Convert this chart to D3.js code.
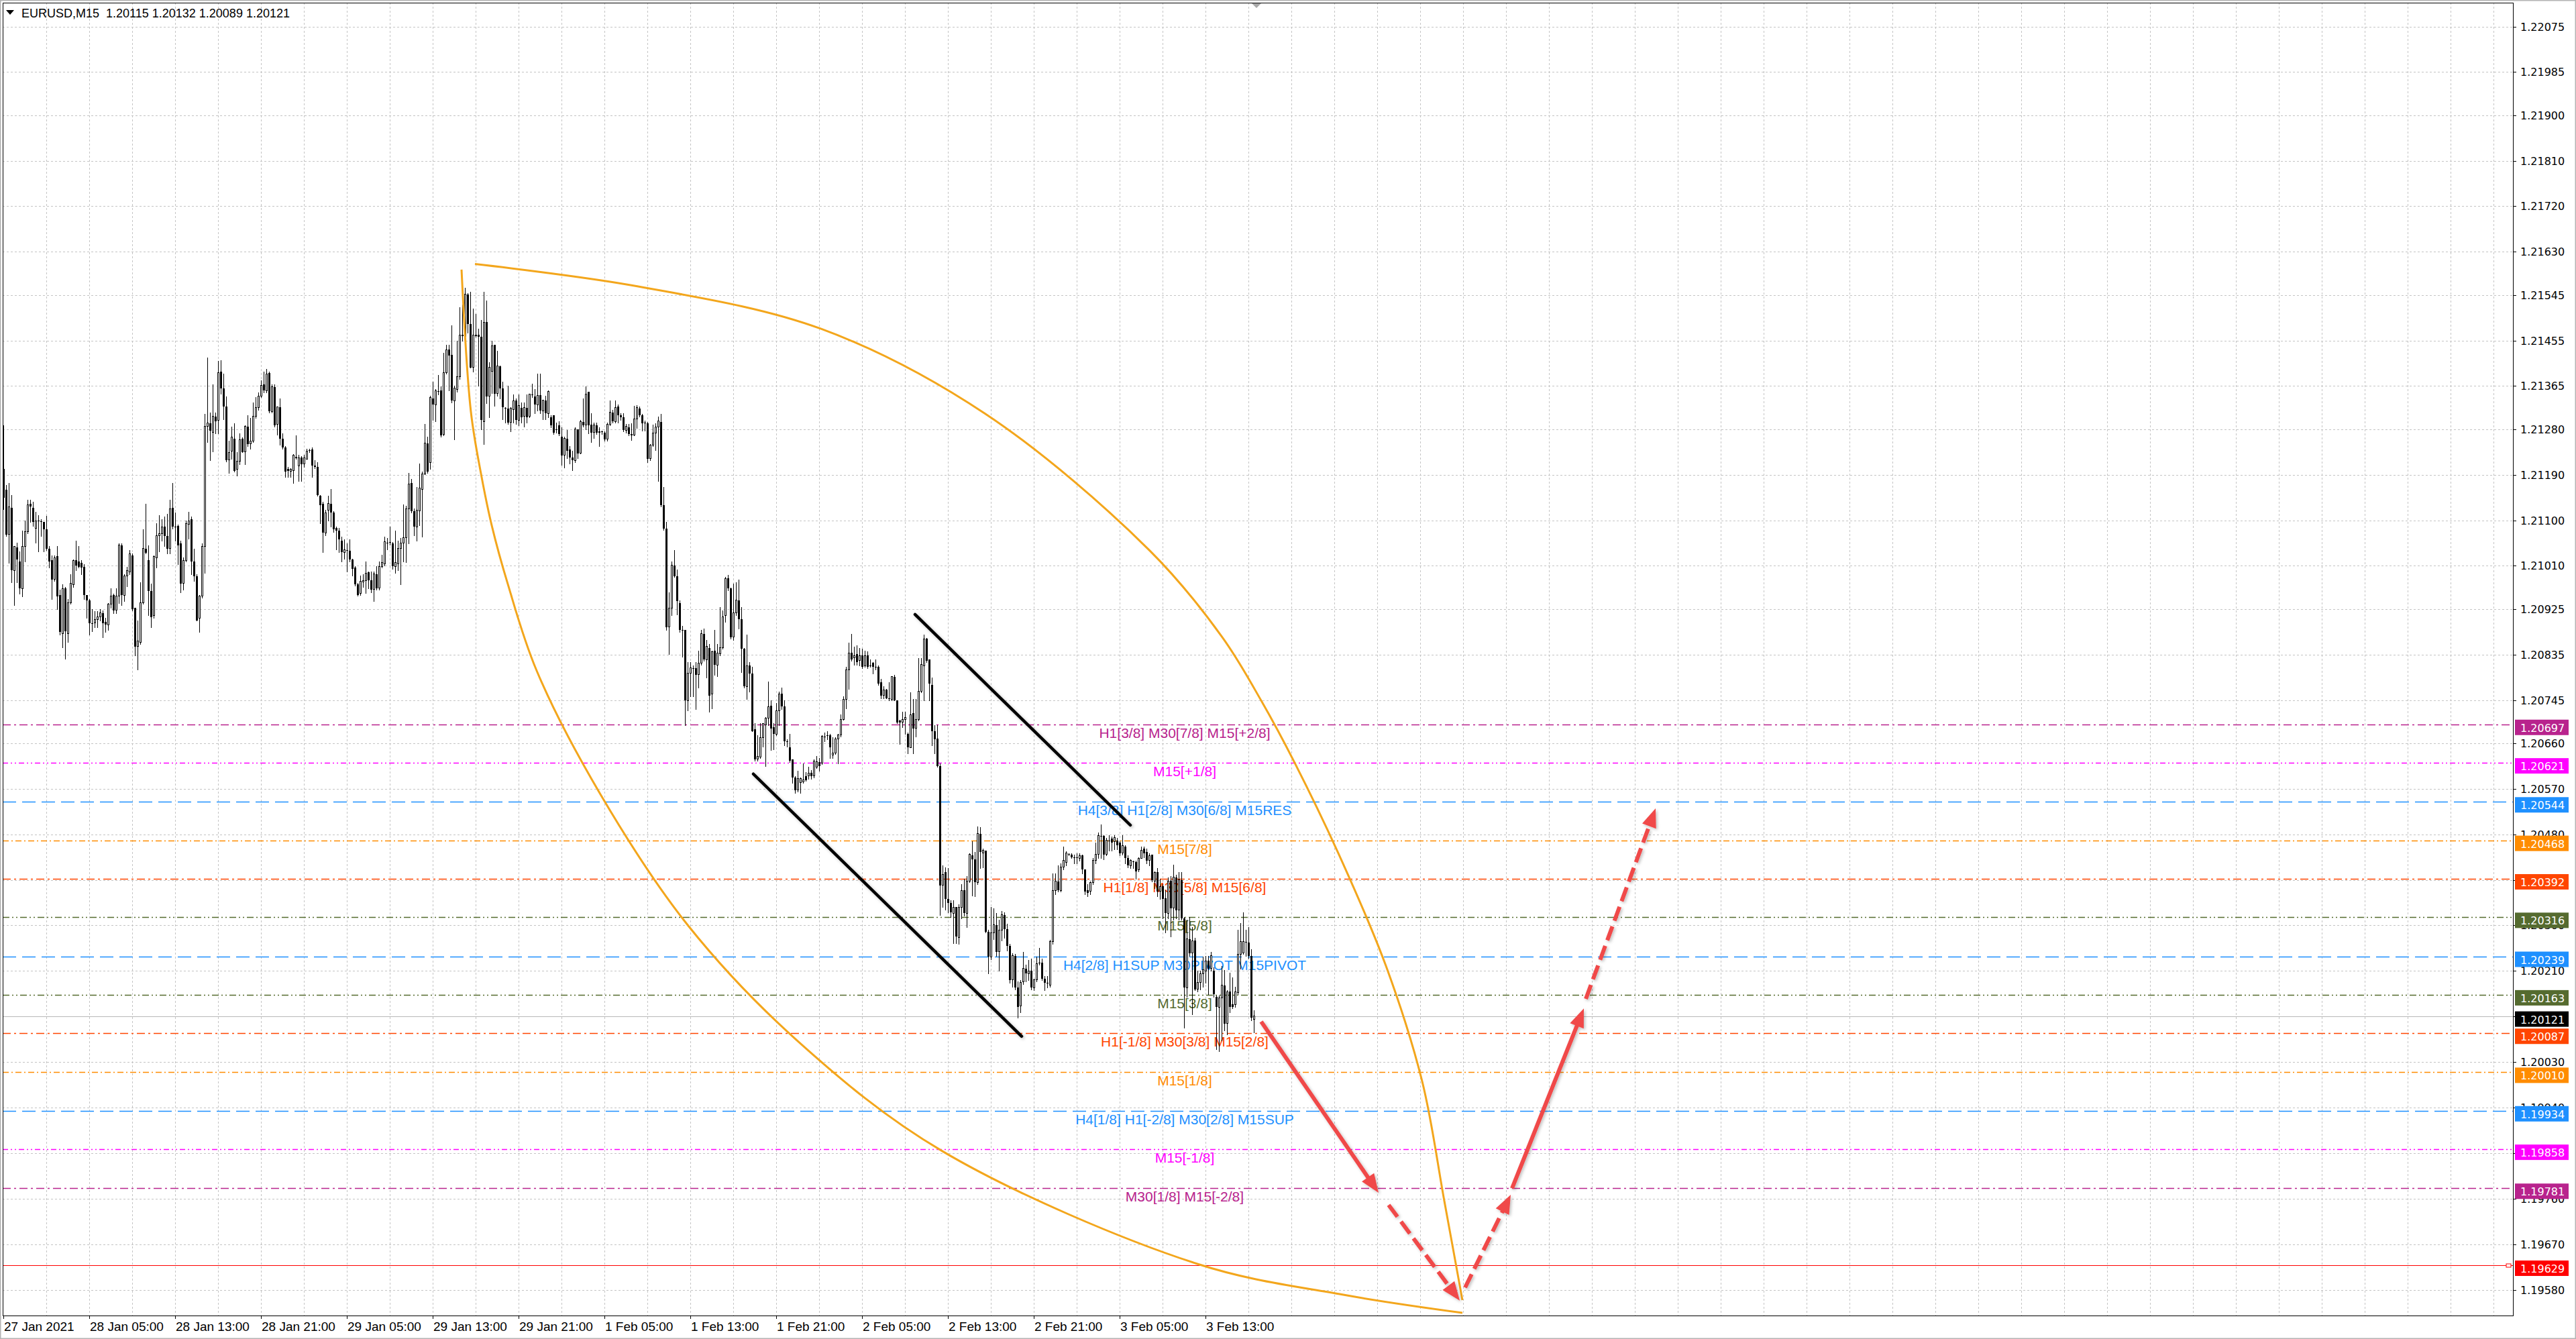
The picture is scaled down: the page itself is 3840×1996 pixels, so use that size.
<!DOCTYPE html>
<html>
<head>
<meta charset="utf-8">
<script src="https://cdn.jsdelivr.net/npm/d3@7"></script>
<style>
  html, body { margin: 0; padding: 0; background: #fff; overflow: hidden; }
</style>
</head>
<body>
<div id="chart"></div>
<script>
// prices of the candles are kept in points (0.00001) above BASE
var BASE = 1.19, PT = 0.00001;

var opens = [
  2201,2160,2072,2125,2001,2046,2018,1965,2049,2077, 2132,2125,2084,2099,2098,2097,2082,2044,2021,1983,
  2029,1952,1876,1965,1876,1937,1973,2021,2018,2016, 2008,1952,1942,1897,1897,1904,1909,1917,1899,1894,
  1935,1952,1922,1950,2051,1952,1990,1998,2031,1927, 1851,1859,1937,2044,2021,1960,1912,2026,2069,2074,
  2087,2069,2044,2125,2087,2089,2054,1975,2021,2092, 2102,2018,1990,1907,1950,2049,2285,2292,2274,2305,
  2297,2394,2361,2325,2219,2236,2261,2201,2216,2261, 2235,2285,2251,2257,2305,2323,2345,2368,2356,2391,
  2315,2363,2290,2323,2261,2244,2201,2197,2198,2225, 2208,2224,2211,2221,2238,2240,2208,2206,2148,2133,
  2075,2120,2132,2115,2085,2080,2060,2037,2041,2040, 2022,2006,1973,1956,1978,1981,1997,1981,1963,1994,
  1966,2009,2014,2056,2057,2055,2009,2014,2044,2055, 2065,2123,2174,2118,2087,2118,2161,2191,2252,2214,
  2341,2328,2355,2356,2270,2392,2437,2427,2336,2359, 2384,2464,2463,2546,2488,2402,2466,2466,2463,2295,
  2491,2345,2394,2446,2350,2404,2361,2322,2321,2293, 2319,2336,2298,2322,2305,2322,2305,2348,2345,2328,
  2347,2316,2337,2311,2304,2307,2279,2287,2265,2228, 2261,2240,2224,2218,2280,2232,2294,2288,2354,2289,
  2273,2287,2273,2275,2273,2260,2290,2313,2295,2325, 2307,2303,2278,2284,2268,2268,2300,2321,2307,2293,
  2292,2222,2249,2272,2284,2294,2130,2084,1889,1927, 2011,1989,1937,1884,1884,1744,1798,1808,1808,1795,
  1818,1876,1825,1848,1757,1842,1814,1837,1848,1912, 1985,1965,1869,1917,1942,1904,1847,1772,1813,1797,
  1688,1628,1633,1671,1696,1709,1734,1691,1678,1724, 1758,1732,1664,1651,1628,1592,1567,1582,1583,1595,
  1595,1601,1595,1613,1623,1620,1673,1675,1676,1637, 1640,1668,1676,1706,1747,1805,1838,1828,1836,1823,
  1833,1813,1833,1813,1818,1811,1810,1780,1754,1765, 1748,1747,1791,1744,1704,1701,1706,1678,1651,1719,
  1689,1706,1762,1813,1866,1825,1775,1683,1669,1615, 1379,1405,1352,1344,1324,1336,1276,1336,1369,1324,
  1387,1439,1430,1385,1481,1443,1448,1288,1238,1286, 1301,1248,1291,1321,1293,1260,1192,1240,1177,1141,
  1189,1215,1205,1210,1177,1192,1226,1227,1195,1187, 1182,1268,1369,1387,1369,1415,1425,1441,1440,1435,
  1434,1433,1438,1410,1369,1367,1385,1428,1440,1477, 1477,1440,1468,1471,1466,1468,1463,1443,1456,1433,
  1418,1426,1425,1410,1433,1451,1445,1428,1440,1387, 1405,1367,1377,1354,1324,1388,1334,1395,1330,1390,
  1314,1177,1273,1245,1270,1174,1187,1205,1210,1230, 1215,1210,1159,1139,1157,1182,1106,1169,1144,1144,
  1167,1243,1245,1268,1266,1240,1115
];
var highs = [
  2287,2170,2173,2150,2049,2056,2039,2079,2099,2141, 2140,2137,2117,2110,2102,2097,2109,2049,2031,2031,
  2049,1963,1973,1968,1945,1993,2023,2059,2049,2021, 2013,1952,1945,1925,1920,1920,1925,1922,1907,1937,
  1965,1955,1965,2054,2054,1993,2008,2041,2034,1927, 1902,1978,2082,2132,2051,1975,2031,2094,2110,2102,
  2107,2112,2140,2173,2115,2092,2059,2026,2099,2117, 2107,2044,1993,1952,2054,2310,2421,2312,2368,2312,
  2414,2416,2389,2345,2257,2285,2292,2234,2272,2264, 2287,2308,2302,2333,2343,2353,2376,2394,2399,2394,
  2368,2368,2324,2340,2272,2247,2206,2203,2231,2267, 2229,2226,2229,2241,2241,2244,2219,2214,2150,2136,
  2120,2148,2161,2118,2087,2085,2067,2062,2054,2062, 2024,2009,1976,1991,1994,2019,1999,1999,1999,2009,
  2019,2032,2067,2065,2087,2057,2080,2060,2065,2131, 2128,2194,2181,2123,2166,2212,2196,2290,2265,2346,
  2374,2359,2387,2364,2430,2447,2447,2485,2366,2455, 2521,2526,2559,2549,2551,2518,2508,2478,2496,2551,
  2534,2412,2455,2447,2435,2405,2374,2323,2366,2323, 2349,2341,2349,2333,2333,2349,2350,2369,2359,2389,
  2389,2338,2346,2356,2308,2308,2293,2295,2283,2265, 2278,2247,2237,2283,2280,2298,2341,2364,2354,2311,
  2293,2293,2283,2277,2275,2293,2336,2318,2336,2328, 2311,2311,2290,2290,2292,2326,2327,2325,2310,2297,
  2294,2251,2289,2292,2305,2310,2165,2097,1957,2018, 2041,2003,1942,1891,1884,1820,1820,1813,1820,1843,
  1884,1886,1863,1856,1843,1884,1856,1929,1922,1988, 1992,1967,1975,1978,1983,1929,1848,1874,1820,1810,
  1699,1676,1699,1699,1711,1782,1744,1699,1739,1762, 1770,1744,1668,1678,1628,1595,1605,1592,1620,1602,
  1613,1607,1628,1635,1630,1676,1681,1683,1678,1671, 1671,1678,1716,1752,1810,1858,1876,1851,1853,1848,
  1846,1843,1841,1825,1820,1825,1813,1787,1772,1767, 1780,1792,1795,1744,1706,1722,1722,1681,1760,1747,
  1747,1828,1828,1874,1868,1825,1790,1696,1696,1620, 1418,1415,1413,1349,1349,1336,1342,1382,1392,1397,
  1443,1466,1445,1496,1494,1451,1448,1291,1336,1334, 1324,1311,1329,1326,1303,1263,1245,1243,1189,1192,
  1248,1222,1232,1235,1195,1238,1255,1235,1200,1200, 1271,1402,1402,1418,1423,1456,1446,1443,1443,1440,
  1443,1443,1440,1410,1382,1387,1433,1463,1483,1499, 1478,1473,1478,1476,1478,1473,1466,1478,1458,1438,
  1430,1428,1428,1435,1456,1456,1451,1443,1440,1407, 1413,1392,1382,1369,1395,1397,1420,1400,1405,1405,
  1316,1311,1316,1296,1276,1210,1210,1238,1240,1240, 1248,1217,1162,1162,1220,1212,1172,1207,1197,1179,
  1291,1304,1326,1291,1296,1253,1132
];
var lows = [
  2122,2069,2016,1978,1932,1978,1955,1950,2018,2074, 2097,2089,2056,2039,2069,2039,2041,2006,1945,1980,
  1925,1874,1849,1826,1859,1935,1968,2001,2006,1993, 1945,1907,1874,1881,1889,1889,1902,1869,1879,1884,
  1927,1917,1917,1937,1932,1940,1970,1993,1922,1833, 1805,1856,1935,2034,1912,1889,1907,2006,2039,2059,
  2049,2034,2034,2084,2059,2013,1958,1963,2018,2064, 1993,1980,1902,1879,1947,1996,2254,2219,2236,2272,
  2272,2350,2300,2216,2193,2221,2196,2188,2211,2234, 2211,2247,2241,2254,2302,2318,2343,2353,2353,2312,
  2312,2285,2269,2249,2241,2186,2186,2186,2173,2221, 2178,2178,2206,2221,2234,2186,2203,2148,2094,2037,
  2070,2100,2087,2077,2042,2037,2019,2024,1999,2019, 1991,1971,1951,1953,1968,1956,1966,1958,1941,1963,
  1963,2006,2011,2042,2052,2004,1996,2001,1973,2019, 2017,2055,2115,2070,2060,2090,2067,2191,2194,2202,
  2298,2295,2349,2265,2267,2389,2356,2333,2260,2354, 2379,2455,2460,2470,2402,2394,2463,2366,2280,2250,
  2331,2303,2351,2326,2346,2341,2300,2293,2290,2275, 2293,2290,2288,2293,2285,2293,2303,2343,2311,2316,
  2311,2300,2300,2303,2283,2270,2273,2267,2209,2204, 2222,2212,2199,2214,2222,2232,2285,2280,2272,2255,
  2262,2270,2247,2270,2257,2257,2288,2293,2293,2293, 2298,2275,2273,2267,2259,2267,2282,2305,2277,2277,
  2215,2218,2246,2239,2178,2127,2081,1884,1836,1912, 1988,1914,1879,1831,1696,1724,1752,1752,1727,1770,
  1815,1823,1790,1722,1729,1795,1792,1833,1846,1899, 1962,1866,1864,1912,1886,1800,1770,1747,1762,1683,
  1625,1625,1630,1653,1615,1696,1646,1648,1676,1696, 1727,1656,1653,1623,1582,1562,1564,1562,1582,1585,
  1590,1590,1592,1610,1605,1618,1663,1668,1630,1630, 1638,1620,1673,1706,1729,1767,1823,1815,1815,1813,
  1808,1810,1808,1810,1798,1805,1775,1749,1749,1749, 1744,1744,1744,1699,1658,1691,1678,1640,1651,1640,
  1673,1704,1760,1744,1820,1744,1656,1640,1613,1321, 1336,1331,1326,1316,1265,1265,1263,1314,1319,1296,
  1385,1359,1357,1382,1413,1415,1286,1205,1233,1273, 1240,1210,1270,1276,1250,1187,1179,1174,1118,1129,
  1184,1189,1192,1174,1172,1189,1222,1192,1172,1177, 1179,1263,1362,1367,1367,1410,1418,1438,1433,1423,
  1423,1428,1402,1362,1357,1362,1382,1423,1433,1433, 1430,1438,1448,1448,1450,1450,1438,1440,1423,1415,
  1413,1413,1392,1407,1433,1435,1423,1418,1387,1374, 1357,1352,1314,1286,1314,1278,1311,1314,1311,1311,
  1098,1159,1240,1124,1172,1169,1174,1179,1187,1164, 1210,1159,1055,1052,1073,1093,1085,1129,1136,1139,
  1164,1215,1243,1240,1235,1113,1089
];
var closes = [
  2145,2072,2127,2001,2049,2023,1965,2049,2077,2130, 2127,2097,2099,2098,2098,2082,2044,2018,1983,2026,
  1950,1879,1965,1881,1937,1975,2021,2011,2008,2006, 1952,1942,1897,1897,1904,1909,1917,1897,1894,1935,
  1950,1922,1950,2051,1952,1990,2001,2034,1925,1851, 1861,1937,2044,2036,1960,1909,2029,2069,2074,2087,
  2069,2044,2122,2087,2087,2051,1975,2021,2094,2099, 2018,1990,1902,1950,2049,2285,2292,2277,2305,2295,
  2391,2361,2325,2219,2234,2264,2198,2216,2259,2235, 2285,2251,2257,2305,2323,2345,2366,2356,2389,2315,
  2363,2287,2324,2261,2244,2196,2198,2201,2229,2222, 2223,2211,2223,2236,2238,2208,2205,2150,2130,2075,
  2115,2133,2115,2082,2080,2062,2037,2042,2041,2022, 2004,1973,1953,1979,1981,1996,1981,1963,1994,1966,
  2009,2016,2057,2056,2057,2009,2016,2044,2055,2065, 2123,2171,2118,2087,2120,2163,2191,2252,2196,2343,
  2328,2356,2355,2267,2392,2436,2425,2336,2361,2384, 2465,2466,2546,2488,2402,2466,2464,2463,2298,2491,
  2345,2402,2445,2350,2405,2361,2323,2322,2293,2321, 2336,2298,2326,2303,2322,2303,2349,2348,2328,2347,
  2316,2337,2311,2354,2287,2273,2279,2270,2228,2262, 2237,2224,2218,2280,2232,2295,2288,2349,2288,2273,
  2288,2273,2275,2275,2260,2290,2313,2295,2323,2308, 2303,2278,2285,2270,2269,2300,2322,2307,2292,2293,
  2221,2249,2272,2284,2296,2130,2084,1889,1927,2011, 1990,1940,1884,1884,1744,1798,1808,1808,1795,1818,
  1876,1825,1851,1754,1841,1815,1838,1848,1909,1985, 1965,1869,1917,1942,1904,1846,1772,1813,1797,1683,
  1628,1634,1671,1699,1709,1732,1689,1678,1724,1757, 1732,1663,1664,1625,1592,1567,1590,1590,1587,1587,
  1600,1595,1625,1623,1615,1673,1673,1675,1651,1640, 1668,1676,1706,1747,1805,1838,1825,1833,1820,1833,
  1810,1833,1810,1813,1810,1811,1777,1754,1765,1749, 1748,1791,1744,1701,1701,1706,1711,1651,1716,1689,
  1706,1762,1815,1866,1823,1777,1683,1668,1615,1379, 1400,1352,1344,1326,1336,1278,1336,1369,1324,1387,
  1440,1430,1385,1481,1445,1448,1288,1238,1286,1301, 1248,1291,1321,1293,1260,1192,1240,1177,1139,1187,
  1215,1205,1210,1177,1192,1225,1226,1195,1187,1187, 1268,1369,1387,1369,1415,1428,1443,1441,1435,1433,
  1434,1438,1410,1367,1364,1385,1428,1440,1478,1477, 1440,1468,1468,1463,1473,1458,1443,1458,1433,1418,
  1428,1426,1407,1433,1448,1443,1428,1438,1390,1405, 1367,1377,1352,1324,1388,1334,1395,1330,1390,1314,
  1177,1273,1245,1270,1174,1187,1205,1212,1230,1215, 1240,1164,1139,1157,1182,1106,1169,1139,1139,1169,
  1243,1268,1268,1266,1240,1118,1121
];

var priceTicks = [1.22075, 1.21985, 1.21900, 1.21810, 1.21720, 1.21630, 1.21545, 1.21455, 1.21365, 1.21280,
  1.21190, 1.21100, 1.21010, 1.20925, 1.20835, 1.20745, 1.20660, 1.20570, 1.20480, 1.20390,
  1.20300, 1.20210, 1.20120, 1.20030, 1.19940, 1.19850, 1.19760, 1.19670, 1.19580];

var timeLabels = ["27 Jan 2021", "28 Jan 05:00", "28 Jan 13:00", "28 Jan 21:00", "29 Jan 05:00",
  "29 Jan 13:00", "29 Jan 21:00", "1 Feb 05:00", "1 Feb 13:00", "1 Feb 21:00", "2 Feb 05:00",
  "2 Feb 13:00", "2 Feb 21:00", "3 Feb 05:00", "3 Feb 13:00"];
var timeLabelBars = [0, 32, 64, 96, 128, 160, 192, 224, 256, 288, 320, 352, 384, 416, 448];

var levelPrices = [1.20697, 1.20621, 1.20544, 1.20468, 1.20392, 1.20316, 1.20239,
  1.20163, 1.20087, 1.20010, 1.19934, 1.19858, 1.19781];
var levelNames = ["H1[3/8] M30[7/8] M15[+2/8]", "M15[+1/8]", "H4[3/8] H1[2/8] M30[6/8] M15RES",
  "M15[7/8]", "H1[1/8] M30[5/8] M15[6/8]", "M15[5/8]", "H4[2/8] H1SUP M30PIVOT M15PIVOT",
  "M15[3/8]", "H1[-1/8] M30[3/8] M15[2/8]", "M15[1/8]", "H4[1/8] H1[-2/8] M30[2/8] M15SUP",
  "M15[-1/8]", "M30[1/8] M15[-2/8]"];
var bidPrice = 1.20121;
var alertPrice = 1.19629;
var title = "EURUSD,M15  1.20115 1.20132 1.20089 1.20121";

// channel lines drawn on the chart (bar index, price)
var channelFromBars = [339.75, 279.5];
var channelFromPrices = [1.20914, 1.20599];
var channelToBars = [420, 379.5];
var channelToPrices = [1.20498, 1.20081];

// the two orange arcs
var arcLowerBars = [170.75, 174.25, 178, 182, 188, 198.75, 222.5, 255, 295.75, 350, 444.75, 499, 543.75];
var arcLowerPrices = [1.21595, 1.21314, 1.21192, 1.21090, 1.20974, 1.20803, 1.20559, 1.20301,
  1.20073, 1.19854, 1.19632, 1.19571, 1.19535];
var arcUpperBars = [175.75, 236.25, 304.75, 366, 427.25, 454.25, 468.75, 481.25, 499, 515.25, 528.75, 537, 543.75];
var arcUpperPrices = [1.21606, 1.21562, 1.21478, 1.21310, 1.21040, 1.20869, 1.20744, 1.20621,
  1.20425, 1.20220, 1.19992, 1.19756, 1.19560];

// red forecast arrows
var arrowFromBars = [468.75, 516.25, 544.75, 562.25, 589.75];
var arrowFromPrices = [1.20110, 1.19748, 1.19585, 1.19781, 1.20155];
var arrowToBars = [512.5, 542.75, 561.75, 589, 615.75];
var arrowToPrices = [1.19772, 1.19559, 1.19768, 1.20136, 1.20531];
var arrowDashed = [false, true, true, false, true];

// styles
var levelColors = ["#b8238d", "#ff00ff", "#1e90ff", "#ff8c00", "#ff4500", "#556b2f", "#1e90ff",
  "#556b2f", "#ff4500", "#ff8c00", "#1e90ff", "#ff00ff", "#b8238d"];
var levelDashes = ["12,5,3,5", "8,4,2,4,2,4", "20,9", "9,4,2,4", "12,5,3,5", "10,4,2,4,2,4", "20,9",
  "10,4,2,4,2,4", "12,5,3,5", "9,4,2,4", "20,9", "8,4,2,4,2,4", "12,5,3,5"];

var W = 3840, H = 1996;
var plot = {left: 4, top: 4, right: 3746, bottom: 1961};
var labelBar = 440.25;

var svg = d3.select("#chart").append("svg")
  .attr("width", W).attr("height", H)
  .style("display", "block")
  .style("background", "#fff");

var x = d3.scaleLinear().domain([0, 935]).range([5, 3745]);
var y = d3.scaleLinear().domain([1.22075, 1.19580]).range([39.5, 1923]);

var defs = svg.append("defs");
defs.append("clipPath").attr("id", "plotclip")
  .append("rect")
  .attr("x", plot.left).attr("y", plot.top)
  .attr("width", plot.right - plot.left).attr("height", plot.bottom - plot.top);
var shadow = defs.append("filter").attr("id", "shadow")
  .attr("x", "-10%").attr("y", "-10%").attr("width", "120%").attr("height", "120%");
shadow.append("feDropShadow")
  .attr("dx", 2).attr("dy", 2).attr("stdDeviation", 2)
  .attr("flood-color", "#000").attr("flood-opacity", 0.25);

// outer frame
svg.append("rect")
  .attr("x", 0.75).attr("y", 0.75).attr("width", W - 1.5).attr("height", H - 1.5)
  .attr("fill", "none").attr("stroke", "#b4b4b4").attr("stroke-width", 1.5);

var g = svg.append("g").attr("clip-path", "url(#plotclip)");

// grid
var grid = g.append("g").attr("shape-rendering", "crispEdges");
grid.selectAll("line.h").data(priceTicks).join("line")
  .attr("class", "h")
  .attr("x1", plot.left).attr("x2", plot.right)
  .attr("y1", function(d) { return Math.round(y(d)) + 0.5; })
  .attr("y2", function(d) { return Math.round(y(d)) + 0.5; })
  .attr("stroke", "#c4c4c4").attr("stroke-dasharray", "3,3");
grid.selectAll("line.v").data(d3.range(16, 935, 16)).join("line")
  .attr("class", "v")
  .attr("x1", function(d) { return Math.round(x(d)) + 0.5; })
  .attr("x2", function(d) { return Math.round(x(d)) + 0.5; })
  .attr("y1", plot.top).attr("y2", plot.bottom)
  .attr("stroke", "#c4c4c4").attr("stroke-dasharray", "3,3");

// level lines
var levels = levelPrices.map(function(p, i) {
  return {price: p, name: levelNames[i], color: levelColors[i], dash: levelDashes[i]};
});
g.append("g").selectAll("line").data(levels).join("line")
  .attr("x1", plot.left).attr("x2", plot.right)
  .attr("y1", function(d) { return Math.round(y(d.price)) + 0.5; })
  .attr("y2", function(d) { return Math.round(y(d.price)) + 0.5; })
  .attr("stroke", function(d) { return d.color; })
  .attr("stroke-width", 1.3)
  .attr("stroke-dasharray", function(d) { return d.dash; });

// bid line and alert line
g.append("line")
  .attr("x1", plot.left).attr("x2", plot.right)
  .attr("y1", Math.round(y(bidPrice)) + 0.5).attr("y2", Math.round(y(bidPrice)) + 0.5)
  .attr("stroke", "#b8b8b8").attr("stroke-width", 1.2);
g.append("line")
  .attr("x1", plot.left).attr("x2", plot.right)
  .attr("y1", Math.round(y(alertPrice)) + 0.5).attr("y2", Math.round(y(alertPrice)) + 0.5)
  .attr("stroke", "#ff0000").attr("stroke-width", 1.2);
g.append("rect")
  .attr("x", plot.right - 10).attr("y", Math.round(y(alertPrice)) - 2)
  .attr("width", 7).attr("height", 5)
  .attr("fill", "#fff").attr("stroke", "#ff0000").attr("stroke-width", 1);

// level names
g.append("g").selectAll("text").data(levels).join("text")
  .attr("x", x(labelBar))
  .attr("y", function(d) { return y(d.price) + 20; })
  .attr("text-anchor", "middle")
  .attr("font-family", "'Liberation Sans', Arial, sans-serif")
  .attr("font-size", 21)
  .attr("fill", function(d) { return d.color; })
  .text(function(d) { return d.name; });

// candles
var candles = d3.range(opens.length).map(function(i) {
  return {
    i: i,
    o: BASE + opens[i] * PT,
    h: BASE + highs[i] * PT,
    l: BASE + lows[i] * PT,
    c: BASE + closes[i] * PT
  };
});
var cg = g.append("g").attr("shape-rendering", "crispEdges");
cg.selectAll("line").data(candles).join("line")
  .attr("x1", function(d) { return Math.round(x(d.i)) + 0.5; })
  .attr("x2", function(d) { return Math.round(x(d.i)) + 0.5; })
  .attr("y1", function(d) { return y(Math.max(d.h, d.o, d.c)); })
  .attr("y2", function(d) { return y(Math.min(d.l, d.o, d.c)) + 1; })
  .attr("stroke", "#000").attr("stroke-width", 1);
cg.selectAll("rect").data(candles).join("rect")
  .attr("x", function(d) { return Math.round(x(d.i)) - (d.c > d.o ? 0.5 : 1); })
  .attr("width", function(d) { return d.c > d.o ? 2 : 3; })
  .attr("y", function(d) { return y(Math.max(d.o, d.c)); })
  .attr("height", function(d) { return Math.max(1, Math.abs(y(d.o) - y(d.c))); })
  .attr("fill", function(d) { return d.c > d.o ? "#fff" : "#000"; })
  .attr("stroke", function(d) { return d.c > d.o ? "#000" : "none"; })
  .attr("stroke-width", 1);

// channel lines
var channels = channelFromBars.map(function(b, i) {
  return {x1: x(b), y1: y(channelFromPrices[i]), x2: x(channelToBars[i]), y2: y(channelToPrices[i])};
});
g.append("g").attr("filter", "url(#shadow)")
  .selectAll("line").data(channels).join("line")
  .attr("x1", function(d) { return d.x1; }).attr("y1", function(d) { return d.y1; })
  .attr("x2", function(d) { return d.x2; }).attr("y2", function(d) { return d.y2; })
  .attr("stroke", "#000").attr("stroke-width", 4.5).attr("stroke-linecap", "round");

// orange arcs
var arcLine = d3.line()
  .x(function(d) { return x(d[0]); })
  .y(function(d) { return y(d[1]); })
  .curve(d3.curveCatmullRom.alpha(0.5));
var arcs = [d3.zip(arcLowerBars, arcLowerPrices), d3.zip(arcUpperBars, arcUpperPrices)];
g.append("g").selectAll("path").data(arcs).join("path")
  .attr("d", arcLine)
  .attr("fill", "none").attr("stroke", "#f3a61c").attr("stroke-width", 3);

// red arrows
var arrows = arrowFromBars.map(function(b, i) {
  return {x1: x(b), y1: y(arrowFromPrices[i]), x2: x(arrowToBars[i]), y2: y(arrowToPrices[i]), dashed: arrowDashed[i]};
});
var headLen = 28, headHalf = 11;
var ag = g.append("g").attr("filter", "url(#shadow)");
ag.selectAll("line").data(arrows).join("line")
  .attr("x1", function(d) { return d.x1; }).attr("y1", function(d) { return d.y1; })
  .attr("x2", function(d) {
    var a = Math.atan2(d.y2 - d.y1, d.x2 - d.x1);
    return d.x2 - Math.cos(a) * headLen * 0.7;
  })
  .attr("y2", function(d) {
    var a = Math.atan2(d.y2 - d.y1, d.x2 - d.x1);
    return d.y2 - Math.sin(a) * headLen * 0.7;
  })
  .attr("stroke", "#f04848").attr("stroke-width", 6)
  .attr("stroke-dasharray", function(d) { return d.dashed ? "22,9" : null; });
ag.selectAll("polygon").data(arrows).join("polygon")
  .attr("points", function(d) {
    var a = Math.atan2(d.y2 - d.y1, d.x2 - d.x1);
    var bx = d.x2 - Math.cos(a) * headLen, by = d.y2 - Math.sin(a) * headLen;
    var px = -Math.sin(a) * headHalf, py = Math.cos(a) * headHalf;
    return [[d.x2, d.y2], [bx + px, by + py], [bx - px, by - py]].map(function(p) { return p.join(","); }).join(" ");
  })
  .attr("fill", "#f04848");

// plot border
svg.append("rect")
  .attr("x", plot.left + 0.5).attr("y", plot.top + 0.5)
  .attr("width", plot.right - plot.left).attr("height", plot.bottom - plot.top)
  .attr("fill", "none").attr("stroke", "#000").attr("stroke-width", 1)
  .attr("shape-rendering", "crispEdges");

// shift marker
svg.append("polygon")
  .attr("points", "1866,5 1880,5 1873,12")
  .attr("fill", "#a8a8a8");

// title
svg.append("polygon").attr("points", "9,15 21,15 15,22").attr("fill", "#000");
svg.append("text")
  .attr("x", 32).attr("y", 26)
  .attr("font-family", "'Liberation Sans', Arial, sans-serif")
  .attr("font-size", 18)
  .attr("fill", "#000")
  .attr("xml:space", "preserve")
  .style("white-space", "pre")
  .text(title);

// price axis
var pa = svg.append("g");
pa.selectAll("line").data(priceTicks).join("line")
  .attr("x1", plot.right).attr("x2", plot.right + 5)
  .attr("y1", function(d) { return Math.round(y(d)) + 0.5; })
  .attr("y2", function(d) { return Math.round(y(d)) + 0.5; })
  .attr("stroke", "#000").attr("shape-rendering", "crispEdges");
pa.selectAll("text").data(priceTicks).join("text")
  .attr("x", 3757)
  .attr("y", function(d) { return y(d) + 6; })
  .attr("font-family", "'DejaVu Sans', Verdana, sans-serif")
  .attr("font-size", 16)
  .attr("fill", "#000")
  .text(function(d) { return d.toFixed(5); });

// price boxes on the axis
var boxes = levels.map(function(d) { return {price: d.price, color: d.color}; })
  .concat([{price: bidPrice, color: "#000"}, {price: alertPrice, color: "#ff0000"}]);
var bx = svg.append("g");
bx.selectAll("rect").data(boxes).join("rect")
  .attr("x", 3749).attr("width", 80)
  .attr("y", function(d) { return y(d.price) - 7; })
  .attr("height", 23)
  .attr("fill", function(d) { return d.color; });
bx.selectAll("text").data(boxes).join("text")
  .attr("x", 3757)
  .attr("y", function(d) { return y(d.price) + 11; })
  .attr("font-family", "'DejaVu Sans', Verdana, sans-serif")
  .attr("font-size", 16)
  .attr("fill", "#fff")
  .text(function(d) { return d.price.toFixed(5); });

// time axis
var ta = svg.append("g");
ta.selectAll("line").data(timeLabelBars).join("line")
  .attr("x1", function(d) { return Math.round(x(d)) + 0.5; })
  .attr("x2", function(d) { return Math.round(x(d)) + 0.5; })
  .attr("y1", plot.bottom).attr("y2", plot.bottom + 5)
  .attr("stroke", "#000").attr("shape-rendering", "crispEdges");
ta.selectAll("text").data(timeLabelBars).join("text")
  .attr("x", function(d) { return x(d) + 1; })
  .attr("y", 1984)
  .attr("font-family", "'Liberation Sans', Arial, sans-serif")
  .attr("font-size", 19)
  .attr("fill", "#000")
  .text(function(d, i) { return timeLabels[i]; });
</script>
</body>
</html>
